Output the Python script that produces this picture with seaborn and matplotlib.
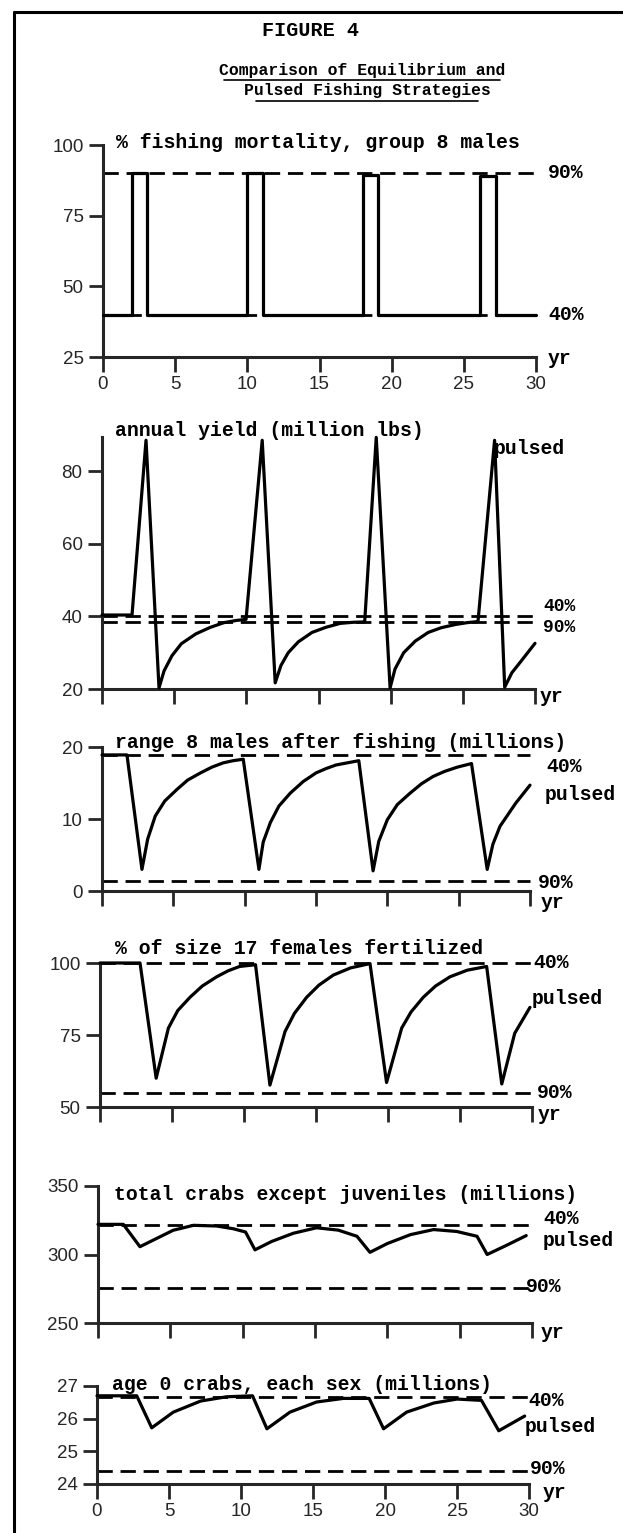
import matplotlib
matplotlib.use("Agg")
import matplotlib.pyplot as plt
import seaborn as sns
from matplotlib.lines import Line2D

# ---- values (years vs. value) ----
# 1. % fishing mortality, group 8 males (pulsed schedule)
mort_t = [0, 2.0, 2.0, 3.06, 3.06, 9.99, 9.99, 11.07, 11.07, 18.03, 18.03, 19.06, 19.06,
          26.1, 26.1, 27.2, 27.2, 30]
mort_v = [40, 40, 90, 90, 40, 40, 90, 90, 40, 40, 89.5, 89.5, 40, 40, 89, 89, 39.7, 39.7]

# 2. annual yield (million lbs)
yield_t = [0, 2.08, 3.05, 3.95, 4.3, 4.85, 5.5, 6.5, 7.5, 8.45, 9.3, 9.98, 11.1, 12.0, 12.4,
           12.9, 13.6, 14.55, 15.5, 16.5, 17.4, 18.2, 19.0, 19.96, 20.3, 20.9, 21.7, 22.6,
           23.5, 24.5, 25.3, 26.05, 27.2, 27.9, 28.4, 29.0, 30.0]
yield_v = [40.4, 40.4, 88.6, 20.3, 25.0, 29.2, 32.5, 35.2, 37.0, 38.3, 38.9, 39.2, 88.6, 21.7,
           26.5, 30.0, 33.0, 35.6, 37.0, 38.1, 38.4, 38.5, 89.4, 20.3, 25.5, 30.0, 33.2, 35.6,
           36.9, 37.8, 38.3, 38.6, 88.6, 20.5, 24.5, 27.5, 32.6]

# 3. range 8 males after fishing (millions)
males_t = [0, 1.75, 2.8, 3.2, 3.73, 4.4, 5.25, 6.0, 6.9, 7.7, 8.5, 9.2, 9.9, 11.0, 11.3, 11.8,
           12.4, 13.2, 14.1, 15.0, 15.7, 16.4, 17.2, 18.0, 19.0, 19.4, 20.0, 20.7, 21.6, 22.4,
           23.2, 24.0, 24.9, 25.9, 27.0, 27.4, 27.9, 29.0, 30.0]
males_v = [18.9, 18.9, 3.0, 7.2, 10.4, 12.5, 14.1, 15.4, 16.4, 17.2, 17.8, 18.1, 18.3, 3.0, 6.8,
           9.5, 11.8, 13.6, 15.2, 16.4, 17.0, 17.5, 17.8, 18.1, 2.8, 6.9, 9.9, 12.0, 13.6, 14.9,
           15.9, 16.6, 17.2, 17.7, 3.0, 6.5, 9.0, 12.2, 14.7]

# 4. % of size 17 females fertilized
fert_t = [0, 2.78, 3.9, 4.75, 5.4, 6.25, 7.1, 8.1, 8.9, 9.7, 10.8, 11.8, 12.85, 13.5, 14.35,
          15.2, 16.2, 17.4, 18.75, 19.9, 20.95, 21.6, 22.45, 23.3, 24.3, 25.5, 26.85, 27.9,
          28.8, 29.86]
fert_v = [100, 100, 60.0, 77.4, 83.5, 88.1, 92.0, 95.2, 97.3, 98.8, 99.4, 57.6, 76.2, 82.5,
          88.1, 92.3, 95.8, 98.3, 99.8, 58.5, 77.4, 83.0, 88.1, 92.0, 95.2, 97.5, 98.8, 58.0,
          75.6, 84.6]

# 5. total crabs except juveniles (millions)
total_t = [0, 1.75, 2.9, 4.05, 5.2, 6.6, 8.2, 9.35, 10.2, 10.85, 12.0, 13.5, 15.1, 16.6, 17.9,
           18.8, 20.0, 21.6, 23.2, 24.8, 26.2, 26.9, 28.2, 29.6]
total_v = [322, 322, 305.7, 311.7, 317.7, 321.3, 320.8, 318.8, 316.4, 303.4, 309.5, 315.5,
           319.5, 317.8, 313.3, 301.6, 308, 314.5, 318.2, 316.8, 313.3, 300, 306.5, 313.8]

# 6. age 0 crabs, each sex (millions)
age0_t = [0, 2.76, 3.8, 5.3, 7.2, 9.0, 10.8, 11.8, 13.4, 15.25, 17.1, 18.9, 19.9, 21.5, 23.4,
          25.0, 26.7, 27.9, 29.7]
age0_v = [26.7, 26.7, 25.72, 26.2, 26.54, 26.67, 26.7, 25.69, 26.2, 26.51, 26.62, 26.62, 25.69,
          26.2, 26.48, 26.6, 26.56, 25.63, 26.08]

# equilibrium strategies (40% and 90% fishing mortality), one value per panel
eq40 = [40, 40.0, 18.9, 100, 321.3, 26.65]
eq90 = [90, 38.6, 1.4, 54.8, 275.3, 24.4]

titles = ["% fishing mortality, group 8 males", "annual yield (million lbs)",
          "range 8 males after fishing (millions)", "% of size 17 females fertilized",
          "total crabs except juveniles (millions)", "age 0 crabs, each sex (millions)"]
yticks = [[25, 50, 75, 100], [20, 40, 60, 80], [0, 10, 20], [50, 75, 100],
          [250, 300, 350], [24, 25, 26, 27]]
ylims = [(25, 100), (20, 89.5), (0, 20), (50, 100), (250, 350), (24, 27)]
years = [0, 5, 10, 15, 20, 25, 30]

sns.set_style("ticks")
plt.rcParams["font.family"] = ["Liberation Sans", "DejaVu Sans"]
MONO = ["Liberation Mono", "DejaVu Sans Mono"]

W, H = 623, 1533
fig = plt.figure(figsize=(W / 100, H / 100), dpi=100)
fig.patch.set_facecolor("white")


def put(x, y, s, size=14.2, ha="left", weight="bold"):
    fig.text(x / W, 1 - y / H, s, ha=ha, va="center", fontsize=size, family=MONO,
             color="black", fontweight=weight)


def hline(x0, x1, y, lw):
    fig.add_artist(Line2D([x0 / W, x1 / W], [1 - y / H, 1 - y / H], color="black", lw=lw,
                          transform=fig.transFigure))


# page frame and heading
hline(14, 623, 12, 2.2)
fig.add_artist(Line2D([14 / W, 14 / W], [1 - 12 / H, 0], color="black", lw=2.2,
                      transform=fig.transFigure))
put(311, 30, "FIGURE 4", size=14.5, ha="center")
put(362, 70, "Comparison of Equilibrium and", size=11.8, ha="center")
put(367, 90, "Pulsed Fishing Strategies", size=11.8, ha="center")
hline(224, 500, 80, 1.2)
hline(256, 478, 101, 1.2)

# panel boxes in pixels: left, right, top, bottom
boxes = [(103, 536, 145, 357), (102, 535, 437, 689), (102, 530, 747, 891),
         (100, 532, 963, 1107), (98, 532, 1186, 1323), (97, 529, 1386, 1484)]
series = [(mort_t, mort_v), (yield_t, yield_v), (males_t, males_v), (fert_t, fert_v),
          (total_t, total_v), (age0_t, age0_v)]
title_pos = [(116, 143), (115, 430), (115, 743), (115, 948), (114, 1195), (112, 1385)]

for i, (box, (t, v)) in enumerate(zip(boxes, series)):
    l, r, tp, b = box
    ax = fig.add_axes([l / W, 1 - b / H, (r - l) / W, (b - tp) / H])
    ax.set_facecolor("none")
    ax.axhline(eq40[i], color="black", lw=2.0, ls=(0, (5.5, 2.8)), zorder=2)
    ax.axhline(eq90[i], color="black", lw=2.0, ls=(0, (5.5, 2.8)), zorder=2)
    sns.lineplot(x=t, y=v, ax=ax, color="black", linewidth=2.3, estimator=None, sort=False,
                 zorder=3)
    for ln in ax.lines:
        ln.set_clip_on(False)
    ax.set_xlim(0, 30)
    ax.set_ylim(*ylims[i])
    ax.set_xticks(years)
    ax.set_yticks(yticks[i])
    ax.set_xlabel("")
    ax.set_ylabel("")
    sns.despine(ax=ax)
    for side in ("left", "bottom"):
        ax.spines[side].set_linewidth(2.2)
    ax.tick_params(axis="x", direction="out", length=11, width=2.0, pad=3, labelsize=13.5)
    ax.tick_params(axis="y", direction="out", length=10, width=2.0, pad=4, labelsize=13.5)
    if i not in (0, 5):
        ax.tick_params(axis="x", labelbottom=False)
    put(*title_pos[i], titles[i])

# right-hand labels
put(548, 172, "90%")
put(548, 315, "40%")
put(548, 358, "yr")

put(494, 448, "pulsed")
put(543, 607, "40%", size=13)
put(543, 628, "90%", size=13)
put(540, 697, "yr")

put(546, 766, "40%")
put(545, 794, "pulsed")
put(538, 882, "90%")
put(541, 903, "yr")

put(533, 963, "40%")
put(532, 998, "pulsed")
put(537, 1092, "90%")
put(538, 1114, "yr")

put(543, 1218, "40%")
put(543, 1240, "pulsed")
put(526, 1286, "90%")
put(541, 1333, "yr")

put(528, 1401, "40%")
put(525, 1427, "pulsed")
put(530, 1468, "90%")
put(543, 1492, "yr")

fig.savefig("out.png", dpi=100)
